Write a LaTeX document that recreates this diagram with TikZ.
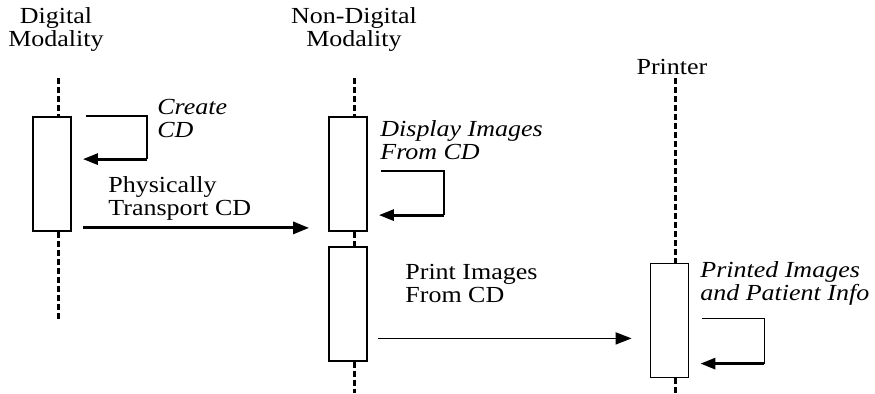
\documentclass[tikz,border=0pt]{standalone}
\usepackage{fontspec}
\setmainfont{Liberation Serif}[FakeStretch=1.13]
\usetikzlibrary{positioning, calc, arrows.meta}

\begin{document}
\begin{tikzpicture}[x=0.5pt, y=-0.5pt, font=\fontsize{11.5}{11.5}\selectfont]
\tikzstyle{actbox} = [rectangle, draw, line width=0.9pt, fill=white,
    minimum width=19pt, minimum height=57pt, inner sep=0pt]
\tikzstyle{lifeline} = [draw, line width=1.5pt, dash pattern=on 3pt off 1.5pt]
\tikzstyle{head} = [align=center, inner sep=0pt]
\tikzstyle{note} = [align=left, inner sep=0pt, anchor=west]
\tikzstyle{msgline} = [draw, -{Triangle[length=8pt, width=6pt]}]
\tikzstyle{loopline} = [draw, line width=0.8pt]
\tikzstyle{looparrow} = [draw, line width=1.4pt, -{Triangle[length=7.5pt, width=5.5pt]}]

\useasboundingbox (0,0) rectangle (875,393);

% participants
\node (hdm) [head] at (56,29) {Digital\\Modality};
\node (hnd) [head] at (354,29) {Non-Digital\\Modality};
\node (hpr) [head] at (672,67) {Printer};

% activation boxes
\node (dm1) [actbox] at (52,174) {};
\node (nd1) [actbox] at (348,174) {};
\node (nd2) [actbox, below=7pt of nd1] {};
\node (pr1) [actbox] at (669.5,320.5) {};

% lifelines
\coordinate (dmtop) at (58,78);
\coordinate (dmend) at (58,320);
\coordinate (ndtop) at (354,78);
\coordinate (ndend) at (354,393);
\coordinate (prtop) at (675,78);
\coordinate (prend) at (675,393);
\path[lifeline] (dmtop) -- (dmtop |- dm1.north);
\path[lifeline] (dmtop |- dm1.south) -- (dmend);
\path[lifeline] (ndtop) -- (ndtop |- nd1.north);
\path[lifeline] (ndtop |- nd1.south) -- (ndtop |- nd2.north);
\path[lifeline] (ndtop |- nd2.south) -- (ndend);
\path[lifeline] (prtop) -- (prtop |- pr1.north);
\path[lifeline] (prtop |- pr1.south) -- (prend);

% self messages
\path[loopline] ($(dm1.north east)+(14,0)$) -| ($(dm1.north east)+(75,43)$);
\path[looparrow] ($(dm1.north east)+(75,43)$) -- ($(dm1.north east)+(11,43)$);
\path[loopline] ($(nd1.north east)+(13,55)$) -| ($(nd1.north east)+(76,99)$);
\path[looparrow] ($(nd1.north east)+(76,99)$) -- ($(nd1.north east)+(11,99)$);
\path[loopline] ($(pr1.north east)+(13,56)$) -| ($(pr1.north east)+(75,101)$);
\path[looparrow] ($(pr1.north east)+(75,101)$) -- ($(pr1.north east)+(11,101)$);

% messages
\path[msgline, line width=1.5pt] ($(dm1.south east)+(11,-4)$) -- ($(nd1.south west)+(-19,-4)$);
\coordinate (prin) at ($(pr1.south west)+(-18,-40)$);
\path[msgline, line width=0.9pt] ([xshift=5pt]prin -| nd2.east) -- (prin);

% labels
\node (lcreate) [note] at (157,118) {\itshape Create\\\itshape CD};
\node (ltrans) [note] at (108,198) {Physically\\Transport CD};
\node (ldisp) [note] at (380,140) {\itshape Display Images\\\itshape From CD};
\node (lprint) [note] at (405,283) {Print Images\\From CD};
\node (lprinted) [note] at (700,283) {\itshape Printed Images\\\itshape and Patient Info};
\end{tikzpicture}
\end{document}
